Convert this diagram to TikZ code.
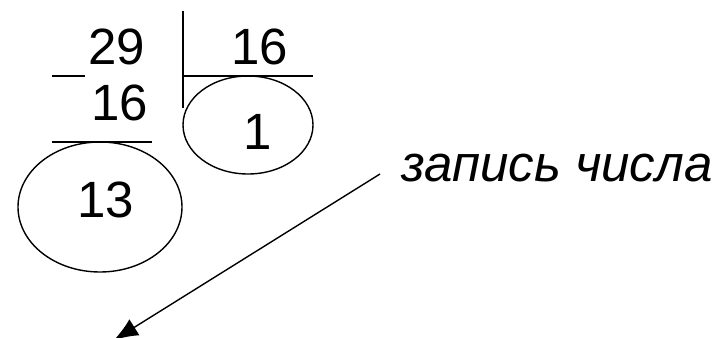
\documentclass[tikz,border=0pt]{standalone}
\usepackage{fontspec}
\setmainfont{Liberation Sans}
\usetikzlibrary{arrows.meta}
\tikzset{
  num/.style={inner sep=0pt, font=\fontsize{51}{51}\selectfont},
  rule/.style={line width=1.6pt},
  oval/.style={line width=1.4pt},
  lbl/.style={inner sep=0pt, font=\fontsize{51}{51}\selectfont\itshape, anchor=base west},
}
\begin{document}
\begin{tikzpicture}[x=1pt,y=-1pt]
\useasboundingbox (0,0) rectangle (714,337);
% numbers
\node[num] (n29) at (117,47) {29};
\node[num] (d16) at (260,47) {16};
\node[num] (s16) at (120,103) {16};
\node[num] (r13) at (106,200) {13};
\node[num] (q1) at (258,132) {1};
% rules
\coordinate (m1) at (52,76); \coordinate (m2) at (85,76);
\draw[rule] (m1) -- (m2);
\coordinate (v1) at (183,11); \coordinate (v2) at (183,108);
\draw[rule] (v1) -- (v2);
\coordinate (h1) at (183,76); \coordinate (h2) at (313,76);
\draw[rule] (h1) -- (h2);
\coordinate (u1) at (52,142); \coordinate (u2) at (152,142);
\draw[rule] (u1) -- (u2);
% ellipses
\draw[oval] (248,125) ellipse [x radius=65, y radius=49];
\draw[oval] (100,207) ellipse [x radius=82, y radius=65];
% label and arrow
\node[lbl] (lab) at (401,181) {запись числа};
\coordinate (a1) at (380,174);
\coordinate (a2) at (114,340);
\draw[line width=1.4pt, -{Latex[length=24pt,width=19pt]}] (a1) -- (a2);
\end{tikzpicture}
\end{document}
